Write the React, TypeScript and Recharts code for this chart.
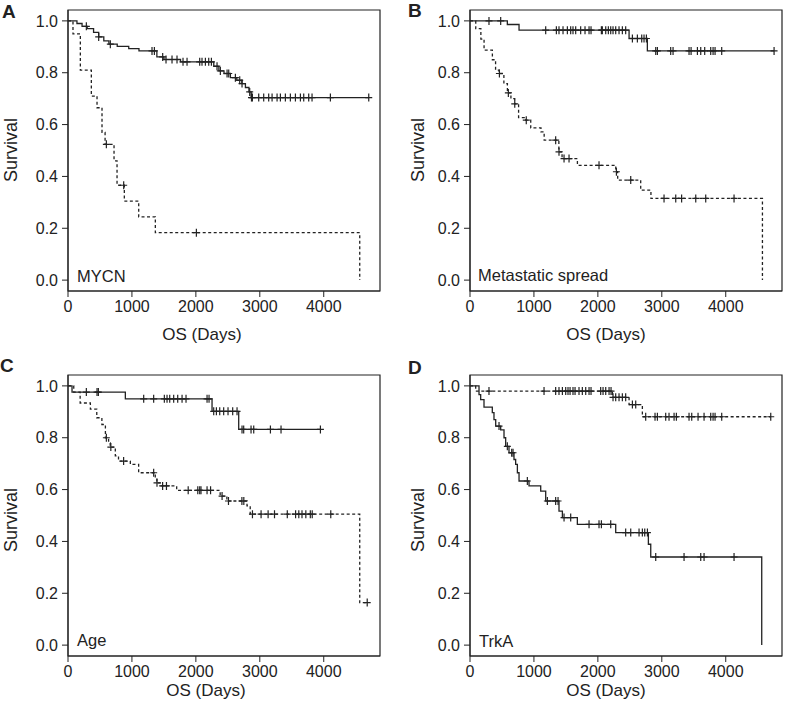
import { ComposedChart, Line, Scatter, XAxis, YAxis, ReferenceArea } from 'recharts';

const FONT = '"Liberation Sans", Arial, Helvetica, sans-serif';
const INK = '#222';

const xTicks = [0, 1000, 2000, 3000, 4000];
const yTicks = [0, 0.2, 0.4, 0.6, 0.8, 1.0];
const xMax = 4880;
const yMin = -0.042;
const yMax = 1.042;

// A - MYCN
const mycnNonAmpTimes = [0, 140, 220, 300, 400, 480, 560, 640, 770, 950, 1110, 1390, 1500, 1760, 2280, 2360, 2440, 2540, 2640, 2720, 2775, 2830, 2865];
const mycnNonAmpSurv = [1.0, 0.99, 0.979, 0.97, 0.956, 0.938, 0.923, 0.91, 0.902, 0.893, 0.884, 0.861, 0.851, 0.842, 0.825, 0.807, 0.797, 0.781, 0.771, 0.758, 0.743, 0.726, 0.704];
const mycnNonAmpCensor = [287, 480, 662, 1314, 1351, 1481, 1533, 1627, 1705, 1799, 1862, 2060, 2096, 2149, 2201, 2243, 2331, 2383, 2488, 2514, 2618, 2686, 2722, 2842, 2870, 2884, 2983, 3061, 3139, 3192, 3270, 3322, 3400, 3478, 3557, 3635, 3687, 3765, 3817, 4104, 4704];
const mycnNonAmpEnd = 4704;

const mycnAmpTimes = [0, 78, 193, 365, 454, 532, 580, 720, 767, 881, 1106, 1366, 4563];
const mycnAmpSurv = [1.0, 0.95, 0.81, 0.71, 0.665, 0.57, 0.524, 0.46, 0.366, 0.305, 0.244, 0.183, 0.0];
const mycnAmpCensor = [600, 871, 2008];
const mycnAmpEnd = 4563;

// B - Metastatic spread
const metNoTimes = [0, 584, 767, 2488, 2774];
const metNoSurv = [1.0, 0.986, 0.964, 0.932, 0.884];
const metNoCensor = [297, 480, 1184, 1351, 1392, 1455, 1523, 1575, 1611, 1653, 1731, 1799, 1862, 1893, 2055, 2070, 2123, 2164, 2201, 2237, 2279, 2331, 2383, 2435, 2540, 2618, 2686, 2722, 2759, 2905, 2931, 3139, 3176, 3426, 3458, 3557, 3609, 3671, 3765, 3802, 3833, 3937, 4756];
const metNoEnd = 4756;

const metYesTimes = [0, 90, 170, 220, 350, 400, 455, 530, 585, 640, 700, 760, 870, 950, 1110, 1160, 1390, 1440, 1680, 2280, 2310, 2670, 2830, 4574];
const metYesSurv = [1.0, 0.97, 0.93, 0.887, 0.85, 0.81, 0.797, 0.758, 0.722, 0.7, 0.68, 0.627, 0.617, 0.587, 0.572, 0.54, 0.495, 0.469, 0.443, 0.418, 0.386, 0.347, 0.315, 0.0];
const metYesCensor = [460, 600, 700, 880, 1340, 1392, 1471, 1549, 2018, 2290, 2514, 3035, 3218, 3310, 3531, 3687, 4130];
const metYesEnd = 4574;

// C - Age
const ageYoungTimes = [0, 63, 897, 2253, 2670];
const ageYoungSurv = [1.0, 0.976, 0.95, 0.902, 0.832];
const ageYoungCensor = [287, 454, 475, 1184, 1340, 1507, 1549, 1591, 1653, 1716, 1784, 1846, 2175, 2206, 2279, 2321, 2373, 2435, 2503, 2576, 2644, 2722, 2748, 2863, 2905, 3166, 3332, 3948];
const ageYoungEnd = 3948;

const ageOldTimes = [0, 90, 190, 350, 450, 530, 585, 635, 660, 740, 790, 975, 1105, 1365, 1390, 1445, 1700, 2380, 2485, 2800, 2850, 4563];
const ageOldSurv = [1.0, 0.976, 0.934, 0.91, 0.877, 0.851, 0.8, 0.78, 0.764, 0.73, 0.71, 0.697, 0.665, 0.646, 0.626, 0.614, 0.597, 0.575, 0.556, 0.537, 0.505, 0.164];
const ageOldCensor = [600, 670, 870, 1340, 1392, 1480, 1540, 1880, 2030, 2060, 2080, 2175, 2230, 2410, 2510, 2720, 2750, 2885, 3020, 3130, 3230, 3430, 3560, 3610, 3660, 3720, 3790, 3820, 4110, 4680];
const ageOldEnd = 4680;

// D - TrkA
const trkHighTimes = [0, 89, 2227, 2488, 2696];
const trkHighSurv = [1.0, 0.98, 0.956, 0.928, 0.881];
const trkHighCensor = [297, 1158, 1340, 1392, 1445, 1497, 1533, 1565, 1611, 1643, 1705, 1757, 1810, 1862, 1893, 2044, 2081, 2123, 2175, 2206, 2237, 2279, 2331, 2383, 2435, 2540, 2592, 2748, 2894, 2931, 3061, 3113, 3192, 3228, 3426, 3468, 3567, 3661, 3765, 3802, 3833, 3937, 4704];
const trkHighEnd = 4704;

const trkLowTimes = [0, 141, 167, 219, 349, 375, 402, 480, 532, 558, 610, 688, 714, 741, 767, 923, 1106, 1184, 1392, 1445, 1679, 2279, 2790, 2827, 4563];
const trkLowSurv = [1.0, 0.966, 0.947, 0.918, 0.897, 0.87, 0.845, 0.83, 0.8, 0.767, 0.742, 0.716, 0.697, 0.665, 0.633, 0.614, 0.594, 0.556, 0.517, 0.492, 0.466, 0.434, 0.389, 0.34, 0.0];
const trkLowCensor = [454, 584, 652, 673, 897, 1210, 1340, 1377, 1471, 1575, 1862, 2018, 2055, 2201, 2435, 2514, 2644, 2696, 2733, 2775, 2905, 3348, 3609, 3661, 4130];
const trkLowEnd = 4563;

type Pt = { t: number; s: number };

const survAt = (times: number[], surv: number[], t: number) => {
  let v = surv[0];
  times.forEach((tt, i) => {
    if (tt <= t) v = surv[i];
  });
  return v;
};

const makeCurve = (times: number[], surv: number[], censor: number[], end: number, dashed: boolean) => {
  const line: Pt[] = times.map((t, i) => ({ t, s: surv[i] }));
  line.push({ t: end, s: surv[surv.length - 1] });
  const marks: Pt[] = censor.map((t) => ({ t, s: survAt(times, surv, t) }));
  return { line, marks, dashed };
};

const Plus = (props: any) => {
  const { cx, cy } = props;
  if (cx == null || cy == null) return <g />;
  return (
    <path
      d={`M${cx - 3.5},${cy}H${cx + 3.5}M${cx},${cy - 4}V${cy + 4}`}
      stroke={INK}
      strokeWidth={1.2}
      fill="none"
    />
  );
};

function Panel({ left, top, curves }: { left: number; top: number; curves: any[] }) {
  return (
    <div style={{ position: 'absolute', left: left - 68, top: top - 10 }}>
      <ComposedChart width={392} height={330} margin={{ top: 10, right: 12, bottom: 0, left: 0 }}>
        <XAxis
          type="number"
          dataKey="t"
          domain={[0, xMax]}
          ticks={xTicks}
          allowDataOverflow
          height={39}
          tickSize={6}
          tickMargin={4}
          stroke={INK}
          tick={{ fill: INK, fontSize: 16, fontFamily: FONT }}
        />
        <YAxis
          type="number"
          dataKey="s"
          domain={[yMin, yMax]}
          ticks={yTicks}
          allowDataOverflow
          width={68}
          tickSize={6}
          tickMargin={4}
          stroke={INK}
          tickFormatter={(v: number) => v.toFixed(1)}
          tick={{ fill: INK, fontSize: 16, fontFamily: FONT }}
        />
        <ReferenceArea x1={0} x2={xMax} y1={yMin} y2={yMax} fill="none" fillOpacity={0} stroke={INK} strokeWidth={1.2} />
        {curves.map((c, i) => (
          <Line
            key={'l' + i}
            data={c.line}
            dataKey="s"
            type="stepAfter"
            stroke={INK}
            strokeWidth={1.3}
            strokeDasharray={c.dashed ? '3 2.5' : undefined}
            dot={false}
            activeDot={false}
            isAnimationActive={false}
          />
        ))}
        {curves.map((c, i) => (
          <Scatter key={'c' + i} data={c.marks} dataKey="s" shape={Plus} isAnimationActive={false} />
        ))}
      </ComposedChart>
    </div>
  );
}

export default function App() {
  const panels = [
    { left: 68, top: 10, curves: [makeCurve(mycnNonAmpTimes, mycnNonAmpSurv, mycnNonAmpCensor, mycnNonAmpEnd, false), makeCurve(mycnAmpTimes, mycnAmpSurv, mycnAmpCensor, mycnAmpEnd, true)] },
    { left: 470, top: 10, curves: [makeCurve(metNoTimes, metNoSurv, metNoCensor, metNoEnd, false), makeCurve(metYesTimes, metYesSurv, metYesCensor, metYesEnd, true)] },
    { left: 68, top: 375, curves: [makeCurve(ageYoungTimes, ageYoungSurv, ageYoungCensor, ageYoungEnd, false), makeCurve(ageOldTimes, ageOldSurv, ageOldCensor, ageOldEnd, true)] },
    { left: 470, top: 375, curves: [makeCurve(trkHighTimes, trkHighSurv, trkHighCensor, trkHighEnd, true), makeCurve(trkLowTimes, trkLowSurv, trkLowCensor, trkLowEnd, false)] },
  ];

  return (
    <div style={{ position: 'absolute', left: 0, top: 0, width: 785, height: 708, overflow: 'hidden', background: '#fff' }}>
      {panels.map((p, i) => (
        <Panel key={i} left={p.left} top={p.top} curves={p.curves} />
      ))}
      <svg width={785} height={708} style={{ position: 'absolute', left: 0, top: 0, pointerEvents: 'none' }} fontFamily={FONT} fill={INK}>
        <text x={2} y={17.5} fontSize={19} fontWeight="bold">A</text>
        <text x={408} y={17} fontSize={19} fontWeight="bold">B</text>
        <text x={0} y={372} fontSize={19} fontWeight="bold">C</text>
        <text x={408} y={374} fontSize={19} fontWeight="bold">D</text>

        <text x={77} y={282} fontSize={16.5}>MYCN</text>
        <text x={478} y={281} fontSize={16.5}>Metastatic spread</text>
        <text x={77} y={646} fontSize={16.5}>Age</text>
        <text x={479} y={647} fontSize={16.5}>TrkA</text>

        <text x={202} y={340} fontSize={17} textAnchor="middle">OS (Days)</text>
        <text x={606} y={340} fontSize={17} textAnchor="middle">OS (Days)</text>
        <text x={206} y={696} fontSize={17} textAnchor="middle">OS (Days)</text>
        <text x={606} y={696} fontSize={17} textAnchor="middle">OS (Days)</text>

        <text transform="translate(17,150) rotate(-90)" fontSize={18} textAnchor="middle">Survival</text>
        <text transform="translate(424,150) rotate(-90)" fontSize={18} textAnchor="middle">Survival</text>
        <text transform="translate(16.5,520) rotate(-90)" fontSize={18} textAnchor="middle">Survival</text>
        <text transform="translate(424,520) rotate(-90)" fontSize={18} textAnchor="middle">Survival</text>
    </svg>
    </div>
  );
}
